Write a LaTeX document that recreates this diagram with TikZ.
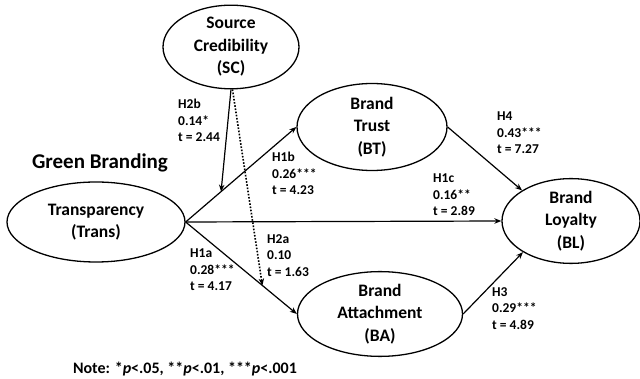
\documentclass[tikz,border=0pt]{standalone}
\usepackage{fontspec}
\setmainfont{Carlito}
\usetikzlibrary{shapes.geometric,arrows.meta}
\begin{document}
\begin{tikzpicture}[x=1pt,y=-1pt,
  construct/.style={draw,ellipse,line width=1.3pt,inner sep=0pt,align=center,
    font=\fontsize{17.5}{22.5}\selectfont\bfseries},
  pathline/.style={line width=1.2pt,-{Stealth[length=7pt,width=5.5pt]}},
  dottedpath/.style={line width=1.6pt,dash pattern=on 1.6pt off 1.6pt,-{Stealth[length=7pt,width=5.5pt]}},
  lbl/.style={anchor=north west,inner sep=0pt,align=left,
    font=\fontsize{13.5}{16.5}\selectfont\bfseries}]
\useasboundingbox (0,0) rectangle (640,379);
% constructs
\node[construct,minimum width=136pt,minimum height=70pt] (SC) at (231,47) {Source\\Credibility\\(SC)};
\node[construct,minimum width=178pt,minimum height=80pt] (Trans) at (96,222) {Transparency\\(Trans)};
\node[construct,minimum width=150pt,minimum height=87pt] (BT) at (372,127) {Brand\\Trust\\(BT)};
\node[construct,minimum width=165pt,minimum height=84pt] (BA) at (380,314) {Brand\\Attachment\\(BA)};
\node[construct,minimum width=138pt,minimum height=83pt] (BL) at (571,221) {Brand\\Loyalty\\(BL)};
% heading and note
\node[inner sep=0pt,font=\fontsize{21}{24}\selectfont\bfseries] (GB) at (100,163) {Green Branding};
\node[inner sep=0pt,font=\fontsize{16}{18}\selectfont\bfseries] (note) at (185,369)
  {Note: *\textit{p}<.05, **\textit{p}<.01, ***\textit{p}<.001};
% paths
\draw[pathline] (Trans.east) -- coordinate[pos=0.32] (mBT) (BT.west);
\draw[pathline] (Trans.east) -- coordinate[pos=0.69] (mBA) (BA.west);
\draw[pathline] (Trans.east) -- (BL.west);
\draw[pathline] (BT.east) -- (BL.148);
\draw[pathline] (BA.east) -- (BL.213);
\draw[pathline] (SC.south) -- (mBT);
\draw[dottedpath] (SC.-88) -- (mBA);
% labels
\node[lbl] (l2b) at (178,99) {H2b\\0.14*\\t = 2.44};
\node[lbl] (l1b) at (272,152) {H1b\\0.26***\\t = 4.23};
\node[lbl] (l1c) at (433,174) {H1c\\0.16**\\t = 2.89};
\node[lbl] (l4) at (497,112) {H4\\0.43***\\t = 7.27};
\node[lbl] (l2a) at (267,234) {H2a\\0.10\\t = 1.63};
\node[lbl] (l1a) at (190,249) {H1a\\0.28***\\t = 4.17};
\node[lbl] (l3) at (492,287) {H3\\0.29***\\t = 4.89};
\end{tikzpicture}
\end{document}
